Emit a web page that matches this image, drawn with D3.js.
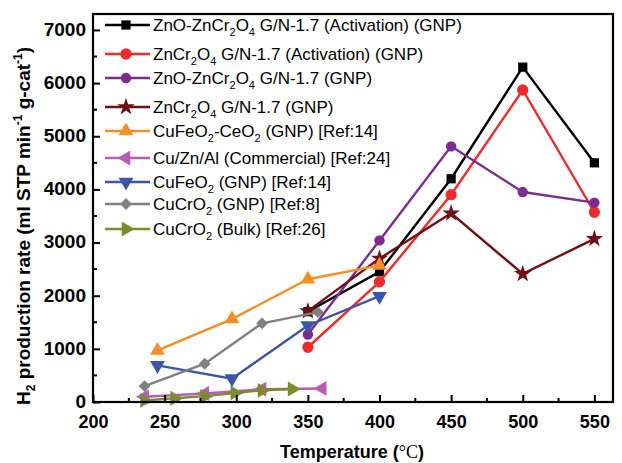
<!DOCTYPE html>
<html>
<head>
<meta charset="utf-8">
<script src="https://cdn.jsdelivr.net/npm/d3@7/dist/d3.min.js"></script>
<style>
html,body{margin:0;padding:0;background:#fff;}
svg{display:block;font-family:"Liberation Sans",Arial,sans-serif;}
</style>
</head>
<body>
<svg id="chart" width="622" height="463"></svg>
<script>
// ---- data ----
const xTicks = [200, 250, 300, 350, 400, 450, 500, 550];
const yTicks = [0, 1000, 2000, 3000, 4000, 5000, 6000, 7000];

const tempA = [350, 400, 450, 500, 550];
const znoZncrAct = [1700, 2450, 4200, 6300, 4500];
const zncrAct = [1030, 2260, 3900, 5870, 3570];
const znoZncrGnp = [1270, 3040, 4810, 3950, 3750];
const zncrGnp = [1710, 2700, 3550, 2410, 3070];

const tempCuFeCe = [245, 297, 350, 400];
const cuFeCe = [970, 1560, 2310, 2570];

const tempCuZnAl = [236, 278, 318, 360];
const cuZnAl = [100, 160, 240, 255];

const tempCuFe = [245, 297, 350, 400];
const cuFe = [690, 440, 1440, 1990];

const tempCuCrGnp = [236, 278, 318, 357];
const cuCrGnp = [300, 720, 1480, 1690];

const tempCuCrBulk = [236, 257, 278, 299, 318, 339];
const cuCrBulk = [30, 70, 110, 170, 220, 245];

// legend labels: arrays of [text, mode] where mode: n=normal, s=subscript
const labels = [
  [["ZnO-ZnCr","n"],["2","s"],["O","n"],["4","s"],[" G/N-1.7 (Activation) (GNP)","n"]],
  [["ZnCr","n"],["2","s"],["O","n"],["4","s"],[" G/N-1.7 (Activation) (GNP)","n"]],
  [["ZnO-ZnCr","n"],["2","s"],["O","n"],["4","s"],[" G/N-1.7 (GNP)","n"]],
  [["ZnCr","n"],["2","s"],["O","n"],["4","s"],[" G/N-1.7 (GNP)","n"]],
  [["CuFeO","n"],["2","s"],["-CeO","n"],["2","s"],[" (GNP) [Ref:14]","n"]],
  [["Cu/Zn/Al (Commercial) [Ref:24]","n"]],
  [["CuFeO","n"],["2","s"],[" (GNP) [Ref:14]","n"]],
  [["CuCrO","n"],["2","s"],[" (GNP) [Ref:8]","n"]],
  [["CuCrO","n"],["2","s"],[" (Bulk) [Ref:26]","n"]]
];

const series = [
  {t: tempA, v: znoZncrAct, color: "#000000", sym: "square"},
  {t: tempA, v: zncrAct, color: "#ee2b2b", sym: "circle"},
  {t: tempA, v: znoZncrGnp, color: "#7e2b90", sym: "hex"},
  {t: tempA, v: zncrGnp, color: "#6e1016", sym: "star"},
  {t: tempCuFeCe, v: cuFeCe, color: "#f58f24", sym: "triUp"},
  {t: tempCuZnAl, v: cuZnAl, color: "#b95cb5", sym: "triLeft"},
  {t: tempCuFe, v: cuFe, color: "#3b55a8", sym: "triDown"},
  {t: tempCuCrGnp, v: cuCrGnp, color: "#808080", sym: "diamond"},
  {t: tempCuCrBulk, v: cuCrBulk, color: "#7d8a30", sym: "triRight"}
];

// ---- layout ----
const L = 93, R = 613, T = 14, B = 402;
const svg = d3.select("#chart");
const x = d3.scaleLinear().domain([200, 563]).range([L, R]);
const y = d3.scaleLinear().domain([0, 7300]).range([B, T]);

function symPath(kind) {
  const map = {
    square: [d3.symbolSquare, 85, 0],
    circle: [d3.symbolCircle, 100, 0],
    hex: [d3.symbolCircle, 85, 0],
    star: [d3.symbolStar, 95, 0],
    triUp: [d3.symbolTriangle, 95, 0],
    triLeft: [d3.symbolTriangle, 95, -90],
    triDown: [d3.symbolTriangle, 95, 180],
    diamond: [d3.symbolSquare, 70, 45],
    triRight: [d3.symbolTriangle, 95, 90]
  };
  const m = map[kind];
  return {d: d3.symbol().type(m[0]).size(m[1])(), rot: m[2]};
}

// series lines + markers
const line = d3.line().x(d => x(d[0])).y(d => y(d[1]));
series.forEach(s => {
  const pts = s.t.map((t, i) => [t, s.v[i]]);
  svg.append("path").attr("d", line(pts)).attr("fill", "none")
    .attr("stroke", s.color).attr("stroke-width", 2.4);
  const sp = symPath(s.sym);
  svg.append("g").selectAll("path").data(pts).join("path")
    .attr("d", sp.d).attr("fill", s.color)
    .attr("transform", d => `translate(${x(d[0])},${y(d[1])}) rotate(${sp.rot})`);
});

// axes
const xAxis = d3.axisBottom(x).tickValues(xTicks).tickSize(-7).tickPadding(13).tickFormat(d3.format("d"));
const gx = svg.append("g").attr("transform", `translate(0,${B})`).call(xAxis);
gx.select(".domain").remove();
gx.selectAll("text").attr("font-size", 18).attr("font-weight", "bold")
  .attr("font-family", "'Liberation Sans',Arial,sans-serif").attr("fill", "#000");
gx.selectAll("line").attr("stroke-width", 2);
const xMinor = d3.range(225, 563, 50);
svg.append("g").selectAll("line").data(xMinor).join("line")
  .attr("x1", d => x(d)).attr("x2", d => x(d)).attr("y1", B).attr("y2", B - 4)
  .attr("stroke", "#000").attr("stroke-width", 2);

const yAxis = d3.axisLeft(y).tickValues(yTicks).tickSize(-7).tickPadding(7).tickFormat(d3.format("d"));
const gy = svg.append("g").attr("transform", `translate(${L},0)`).call(yAxis);
gy.select(".domain").remove();
gy.selectAll("text").attr("font-size", 19).attr("font-weight", "bold").attr("dy", "0.28em")
  .attr("font-family", "'Liberation Sans',Arial,sans-serif").attr("fill", "#000");
gy.selectAll("line").attr("stroke-width", 2);
const yMinor = d3.range(500, 7300, 1000);
svg.append("g").selectAll("line").data(yMinor).join("line")
  .attr("x1", L).attr("x2", L + 4).attr("y1", d => y(d)).attr("y2", d => y(d))
  .attr("stroke", "#000").attr("stroke-width", 2);

// frame
svg.append("rect").attr("x", L).attr("y", T).attr("width", R - L).attr("height", B - T)
  .attr("fill", "none").attr("stroke", "#000").attr("stroke-width", 2.2);

// legend
const legY = [25, 54, 78, 107, 131, 158, 182, 204, 229];
const leg = svg.append("g");
labels.forEach((lab, i) => {
  const s = series[i];
  const yy = legY[i];
  leg.append("line").attr("x1", 105).attr("x2", 150).attr("y1", yy).attr("y2", yy)
    .attr("stroke", s.color).attr("stroke-width", 2.4);
  const sp = symPath(s.sym);
  leg.append("path").attr("d", sp.d).attr("fill", s.color)
    .attr("transform", `translate(126,${yy}) rotate(${sp.rot})`);
  const tx = leg.append("text").attr("x", 153).attr("y", yy + 6)
    .attr("font-size", 17).attr("fill", "#000");
  lab.forEach((p, k) => {
    if (p[1] === "s") {
      tx.append("tspan").attr("font-size", 11).attr("dy", 5).text(p[0]);
    } else {
      const ts = tx.append("tspan").text(p[0]);
      if (k > 0 && lab[k - 1][1] === "s") ts.attr("dy", -5);
    }
  });
});

// axis titles
const xt = svg.append("text").attr("x", 352).attr("y", 458).attr("text-anchor", "middle")
  .attr("font-size", 18).attr("font-weight", "bold").attr("fill", "#000");
xt.append("tspan").text("Temperature (");
xt.append("tspan").attr("font-family", "'Liberation Serif','Times New Roman',serif").attr("font-weight", "normal").text("°C");
xt.append("tspan").text(")");

const yt = svg.append("text").attr("transform", "translate(30,226) rotate(-90)")
  .attr("text-anchor", "middle").attr("font-size", 19).attr("font-weight", "bold").attr("fill", "#000");
yt.append("tspan").text("H");
yt.append("tspan").attr("font-size", 12).attr("dy", 5).text("2");
yt.append("tspan").attr("dy", -5).text(" production rate (ml STP min");
yt.append("tspan").attr("font-size", 12).attr("dy", -8).text("-1");
yt.append("tspan").attr("dy", 8).text(" g-cat");
yt.append("tspan").attr("font-size", 12).attr("dy", -8).text("-1");
yt.append("tspan").attr("dy", 8).text(")");
</script>
</body>
</html>
